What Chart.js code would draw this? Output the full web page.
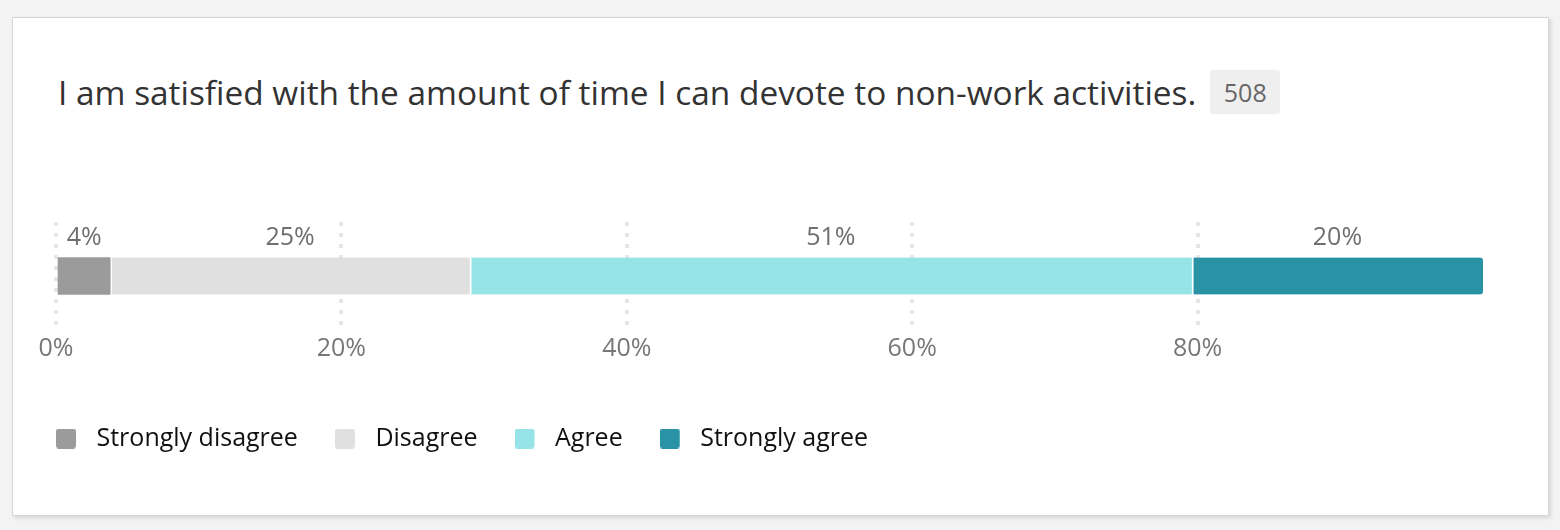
<!DOCTYPE html>
<html lang="en">
<head>
  <meta charset="UTF-8">
  <title>Non-work activities</title>
  <script src="https://cdn.jsdelivr.net/npm/chart.js"></script>
  <style>
    html, body {
      margin: 0;
      padding: 0;
      background: #f3f3f3;
      width: 1560px;
      height: 530px;
      overflow: hidden;
    }
    .card {
      position: absolute;
      left: 12px;
      top: 17px;
      width: 1535px;
      height: 497px;
      background: #fff;
      border: 1px solid #d6d6d6;
      box-shadow: 2px 2px 4px rgba(0,0,0,0.12);
    }
    .head {
      position: absolute;
      left: 45px;
      top: 51px;
      height: 46px;
      display: flex;
      align-items: center;
    }
    .head h2 {
      margin: 0;
      font: 400 33.4px "Open Sans", sans-serif;
      color: #333;
    }
    .badge {
      margin-left: 14px;
      width: 70px;
      height: 44px;
      display: flex;
      align-items: center;
      justify-content: center;
      background: #efefef;
      border-radius: 3px;
      font: 400 25px "Open Sans", sans-serif;
      color: #666;
    }
    .chart-box {
      position: absolute;
      left: 0;
      top: 183px;
      width: 1535px;
      height: 287px;
    }
  </style>
</head>
<body>

<div class="card">
  <div class="head">
    <h2 id="title"></h2>
    <span class="badge" id="count"></span>
  </div>
  <div class="chart-box">
    <canvas id="myChart"></canvas>
  </div>
</div>

<script>
const question = 'I am satisfied with the amount of time I can devote to non-work activities.';
const responses = 508;
const categories = ['Satisfied with non-work time'];
const seriesNames = ['Strongly disagree', 'Disagree', 'Agree', 'Strongly agree'];
const seriesValues = [3.8, 25.2, 50.6, 20.4];
const seriesColors = ['#9b9b9b', '#e0e0e0', '#96e3e8', '#2993a5'];
const tickValues = [0, 20, 40, 60, 80];

document.getElementById('title').textContent = question;
document.getElementById('count').textContent = responses;

// legend swatch: 20px square, leaves a gap before the text
function swatch(color) {
  const c = document.createElement('canvas');
  c.width = 28;
  c.height = 20;
  const g = c.getContext('2d');
  g.fillStyle = color;
  g.beginPath();
  g.roundRect(0, 0, 20, 20, 3);
  g.fill();
  return c;
}

// percentage labels above each segment
const segmentLabels = {
  id: 'segmentLabels',
  afterDatasetsDraw(chart) {
    const ctx = chart.ctx;
    ctx.save();
    ctx.font = '25px "Open Sans", sans-serif';
    ctx.fillStyle = '#6f6f6f';
    ctx.textAlign = 'center';
    ctx.textBaseline = 'middle';
    chart.data.datasets.forEach((ds, i) => {
      chart.getDatasetMeta(i).data.forEach((bar, j) => {
        const x = (bar.base + bar.x) / 2;
        const y = bar.y - bar.height / 2 - 20;
        ctx.fillText(Math.round(ds.data[j]) + '%', x, y);
      });
    });
    ctx.restore();
  }
};

const last = seriesNames.length - 1;
const datasets = seriesNames.map((name, i) => ({
  label: name,
  data: [seriesValues[i]],
  backgroundColor: seriesColors[i],
  borderColor: '#fff',
  borderWidth: { left: i > 0 ? 2 : 0, right: 0, top: 0, bottom: 0 },
  borderSkipped: false,
  borderRadius: i === last ? { topRight: 3, bottomRight: 3 } : 0,
  barThickness: 37
}));

const ctx = document.getElementById('myChart').getContext('2d');
const chart = new Chart(ctx, {
  type: 'bar',
  data: { labels: categories, datasets: datasets },
  plugins: [segmentLabels],
  options: {
    indexAxis: 'y',
    responsive: true,
    maintainAspectRatio: false,
    animation: false,
    layout: { padding: { left: 6, right: 65, top: 21, bottom: 27 } },
    scales: {
      x: {
        stacked: true,
        min: 0,
        max: 100,
        afterBuildTicks: s => { s.ticks = tickValues.concat([100]).map(v => ({ value: v })); },
        afterFit: s => { s.height = 59; },
        border: { display: false, dash: [4, 7] },
        grid: {
          drawTicks: false,
          lineWidth: 4,
          color: c => (c.tick && c.tick.value === 100) ? 'rgba(0,0,0,0)' : '#e6e6e6'
        },
        ticks: {
          padding: 4,
          color: '#777',
          font: { family: 'Open Sans', size: 25 },
          callback: v => tickValues.includes(v) ? v + '%' : ''
        }
      },
      y: {
        stacked: true,
        afterFit: s => { s.width = 37; },
        border: { display: false },
        grid: { display: false },
        ticks: { display: false }
      }
    },
    plugins: {
      tooltip: { enabled: false },
      legend: {
        position: 'bottom',
        align: 'start',
        labels: {
          usePointStyle: true,
          pointStyleWidth: 28,
          padding: 37,
          color: '#111',
          font: { family: 'Open Sans', size: 25 },
          generateLabels: c => Chart.defaults.plugins.legend.labels.generateLabels(c).map((item, i) => {
            item.pointStyle = swatch(seriesColors[i]);
            return item;
          })
        }
      }
    }
  }
});
</script>

</body>
</html>
